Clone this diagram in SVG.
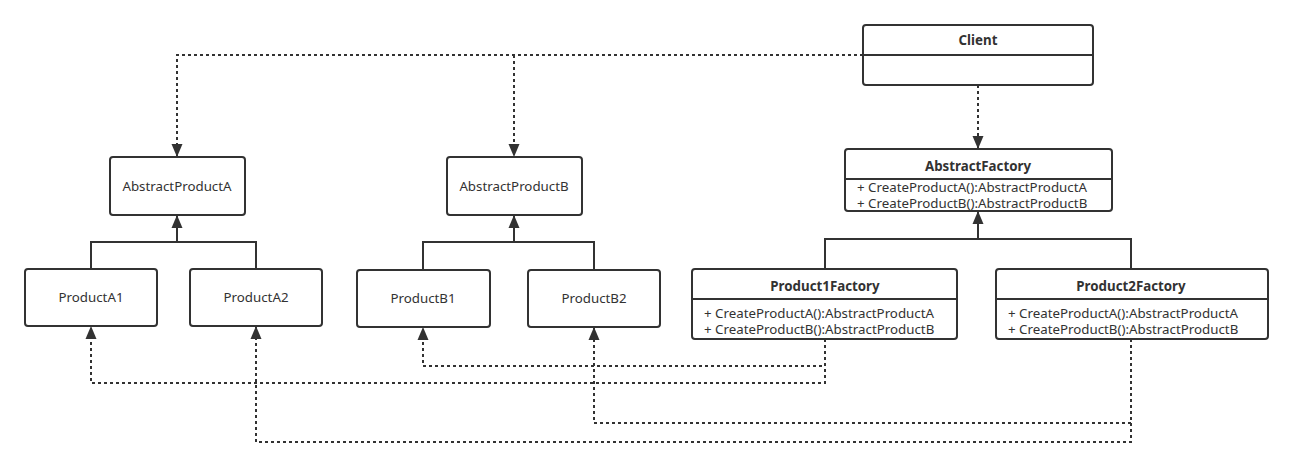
<svg xmlns="http://www.w3.org/2000/svg" width="1290" height="467" viewBox="0 0 1290 467">
<style>
.box{fill:#ffffff;stroke:#323232;stroke-width:2}
.div{stroke:#323232;stroke-width:2}
.t{font-family:"Noto Sans","Liberation Sans",sans-serif;font-size:13.3px;fill:#323232}
.b{font-weight:bold;text-anchor:middle}
.c{text-anchor:middle}
.solid{fill:none;stroke:#323232;stroke-width:2}
.dot{fill:none;stroke:#323232;stroke-width:2;stroke-dasharray:3 3}
</style>
<defs>
<marker id="arr" markerUnits="userSpaceOnUse" markerWidth="13" markerHeight="13" viewBox="0 0 13 11" refX="13" refY="5.5" orient="auto">
<path d="M0,0 L13,5.5 L0,11 z" fill="#323232"/>
</marker>
</defs>
<rect width="1290" height="467" fill="#ffffff"/>
<g id="connectors">
<path class="dot" d="M863,55 H177 V157" marker-end="url(#arr)"/>
<path class="dot" d="M514,55 V157" marker-end="url(#arr)"/>
<path class="dot" d="M978,85 V149" marker-end="url(#arr)"/>
<path class="solid" d="M91,269 V242 H256 V269"/>
<path class="solid" d="M177,242 V215" marker-end="url(#arr)"/>
<path class="solid" d="M423,269 V242 H594 V269"/>
<path class="solid" d="M514,242 V215" marker-end="url(#arr)"/>
<path class="solid" d="M825,269 V239 H1131 V269"/>
<path class="solid" d="M978,239 V211" marker-end="url(#arr)"/>
<path class="dot" d="M825,339 V366 H423 V327" marker-end="url(#arr)"/>
<path class="dot" d="M825,339 V383 H91 V326" marker-end="url(#arr)"/>
<path class="dot" d="M1131,339 V423 H594 V327" marker-end="url(#arr)"/>
<path class="dot" d="M1131,339 V442 H256 V326" marker-end="url(#arr)"/>
</g>
<g id="client">
<rect class="box" x="863" y="25" width="230" height="60" rx="3"/>
<line class="div" x1="863" y1="55" x2="1093" y2="55"/>
<text class="t b" x="978" y="45">Client</text>
</g>
<g id="abstractProductA">
<rect class="box" x="110" y="157" width="135" height="58" rx="3"/>
<text class="t c" x="177" y="191">AbstractProductA</text>
</g>
<g id="abstractProductB">
<rect class="box" x="447" y="157" width="135" height="58" rx="3"/>
<text class="t c" x="514" y="191">AbstractProductB</text>
</g>
<g id="productA1">
<rect class="box" x="25" y="269" width="132" height="57" rx="3"/>
<text class="t c" x="91" y="302">ProductA1</text>
</g>
<g id="productA2">
<rect class="box" x="190" y="269" width="132" height="57" rx="3"/>
<text class="t c" x="256" y="302">ProductA2</text>
</g>
<g id="productB1">
<rect class="box" x="357" y="270" width="133" height="57" rx="3"/>
<text class="t c" x="423" y="303">ProductB1</text>
</g>
<g id="productB2">
<rect class="box" x="528" y="270" width="132" height="57" rx="3"/>
<text class="t c" x="594" y="303">ProductB2</text>
</g>
<g id="abstractFactory">
<rect class="box" x="845" y="149" width="267" height="62" rx="3"/>
<line class="div" x1="845" y1="179" x2="1112" y2="179"/>
<text class="t b" x="978" y="171">AbstractFactory</text>
<text class="t" x="857" y="192">+ CreateProductA():AbstractProductA</text>
<text class="t" x="857" y="208">+ CreateProductB():AbstractProductB</text>
</g>
<g id="product1Factory">
<rect class="box" x="692" y="269" width="265" height="70" rx="3"/>
<line class="div" x1="692" y1="299" x2="957" y2="299"/>
<text class="t b" x="825" y="291">Product1Factory</text>
<text class="t" x="704" y="318">+ CreateProductA():AbstractProductA</text>
<text class="t" x="704" y="334">+ CreateProductB():AbstractProductB</text>
</g>
<g id="product2Factory">
<rect class="box" x="996" y="269" width="272" height="70" rx="3"/>
<line class="div" x1="996" y1="299" x2="1268" y2="299"/>
<text class="t b" x="1131" y="291">Product2Factory</text>
<text class="t" x="1008" y="318">+ CreateProductA():AbstractProductA</text>
<text class="t" x="1008" y="334">+ CreateProductB():AbstractProductB</text>
</g>
</svg>
